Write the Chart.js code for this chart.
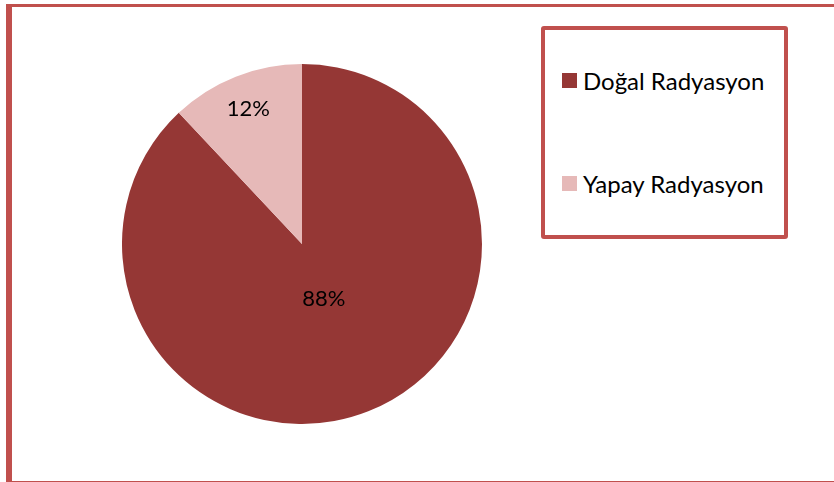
<!DOCTYPE html>
<html>
<head>
<meta charset="utf-8">
<script src="https://cdn.jsdelivr.net/npm/chart.js@4"></script>
<style>
  html, body { margin: 0; padding: 0; background: #fff; }
  body { width: 834px; height: 482px; position: relative; overflow: hidden; font-family: Lato, "Open Sans", sans-serif; }
  .frame {
    position: absolute; left: 6px; top: 4px; width: 840px; height: 474px;
    border-left: 6px solid #c0504d; border-top: 3px solid #c0504d; border-bottom: 1px solid #c0504d;
  }
  .pie-wrap { position: absolute; left: 122px; top: 64px; width: 360px; height: 360px; }
  .legend {
    position: absolute; left: 541px; top: 26px; width: 239px; height: 205px;
    border: 4px solid #c0504d; border-radius: 3px; background: #fff;
  }
  .legend-item { position: absolute; left: 17px; display: flex; align-items: center; font-size: 24px; color: #000; white-space: nowrap; }
  .legend-item span.box { display: inline-block; width: 15px; height: 15px; margin-right: 6px; }
</style>
</head>
<body>
<div class="frame"></div>
<div class="pie-wrap"><canvas id="pieChart" width="360" height="360"></canvas></div>
<div class="legend" id="legend"></div>
<script>
const categories = ["Doğal Radyasyon", "Yapay Radyasyon"];
const shares = [88, 12];
const sliceColors = ["#953735", "#e6b9b8"];

document.addEventListener("DOMContentLoaded", function () {
    // percentage labels drawn inside the slices
    const pctLabels = {
        id: "pctLabels",
        afterDatasetsDraw(chart) {
            const ctx = chart.ctx;
            const meta = chart.getDatasetMeta(0);
            const fractions = [0.33, 0.81];
            ctx.save();
            ctx.font = "22px Lato, 'Open Sans', sans-serif";
            ctx.fillStyle = "#000";
            ctx.textAlign = "center";
            ctx.textBaseline = "middle";
            meta.data.forEach((arc, i) => {
                const mid = (arc.startAngle + arc.endAngle) / 2;
                const r = arc.outerRadius * fractions[i];
                ctx.fillText(shares[i] + "%", arc.x + Math.cos(mid) * r, arc.y + Math.sin(mid) * r);
            });
            ctx.restore();
        }
    };

    new Chart(document.getElementById("pieChart"), {
        type: "pie",
        data: {
            labels: categories,
            datasets: [{
                data: shares,
                backgroundColor: sliceColors,
                borderWidth: 0
            }]
        },
        options: {
            responsive: false,
            animation: false,
            layout: { padding: 0 },
            plugins: {
                legend: { display: false },
                tooltip: { enabled: false }
            }
        },
        plugins: [pctLabels]
    });

    // legend box
    const legend = document.getElementById("legend");
    const tops = [36, 139];
    categories.forEach((name, i) => {
        const item = document.createElement("div");
        item.className = "legend-item";
        item.style.top = tops[i] + "px";
        item.innerHTML = '<span class="box" style="background:' + sliceColors[i] + '"></span>' + name;
        legend.appendChild(item);
    });
});
</script>
</body>
</html>
